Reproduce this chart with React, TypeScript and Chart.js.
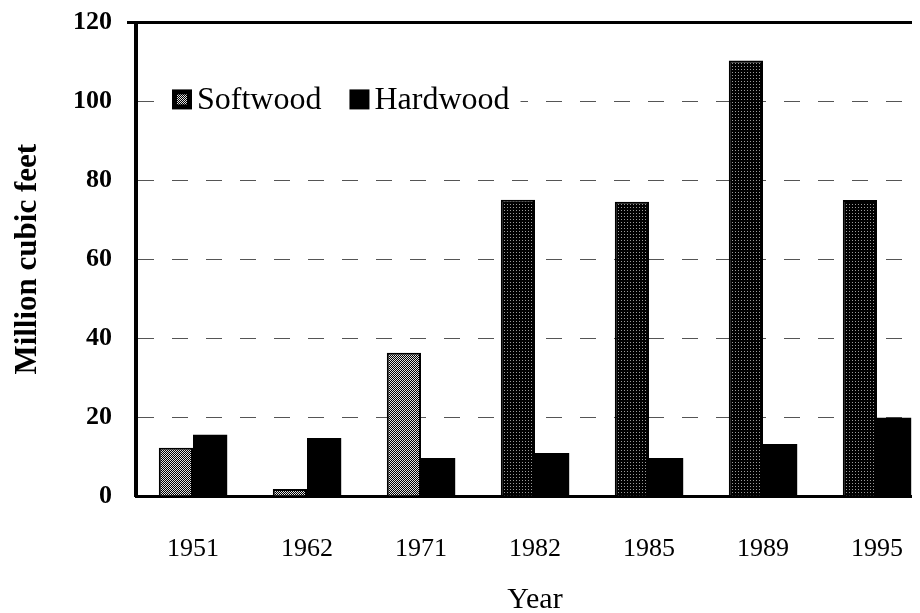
import { useEffect, useRef } from 'react';
import { Chart, registerables } from 'chart.js';

Chart.register(...registerables);

const years = ['1951', '1962', '1971', '1982', '1985', '1989', '1995'];
const softwood = [12.2, 1.8, 36.3, 75.1, 74.6, 110.4, 75.0];
const hardwood = [15.5, 14.7, 9.6, 10.9, 9.6, 13.2, 19.8];
const yMin = 0;
const yMax = 120;
const yStep = 20;

const SERIF = '"Liberation Serif", "Times New Roman", serif';
// shading kind of each softwood bar (light stipple or dark stipple)
const softShade = ['light', 'light', 'light', 'dark', 'dark', 'dark', 'dark'];

function makePattern(kind: string): CanvasPattern | string {
  const c = document.createElement('canvas');
  const n = kind === 'light' ? 2 : 3;
  c.width = n;
  c.height = n;
  const g = c.getContext('2d');
  if (!g) return kind === 'light' ? '#808080' : '#222';
  g.fillStyle = '#000';
  g.fillRect(0, 0, n, n);
  g.fillStyle = kind === 'light' ? '#e0e0e0' : '#9a9a9a';
  if (kind === 'light') {
    g.fillRect(0, 0, 1, 1);
    g.fillRect(1, 1, 1, 1);
  } else {
    g.fillRect(1, 1, 1, 1);
  }
  const p = g.createPattern(c, 'repeat');
  return p || '#444';
}

export default function App() {
  const ref = useRef<HTMLCanvasElement>(null);

  useEffect(() => {
    if (!ref.current) return;
    const patterns: Record<string, CanvasPattern | string> = {
      light: makePattern('light'),
      dark: makePattern('dark'),
    };

    // Legend drawn inside the plot area, on a single row, over a white background
    const inlineLegend = {
      id: 'inlineLegend',
      afterDraw(chart: any) {
        const ctx = chart.ctx;
        const area = chart.chartArea;
        const cy = chart.scales.y.getPixelForValue(100) - 2;
        let x = area.left + 36;
        const box = 20;
        ctx.save();
        ctx.font = `32px ${SERIF}`;
        const items = chart.data.datasets.map((d: any, i: number) => ({
          label: d.label,
          idx: i,
          w: ctx.measureText(d.label).width,
        }));
        const total = items.reduce((s: number, it: any) => s + box + 5 + it.w, 0) + 28 * (items.length - 1);
        ctx.fillStyle = '#ffffff';
        ctx.fillRect(x - 17, cy - 16, total + 28, 32);
        ctx.textBaseline = 'middle';
        ctx.textAlign = 'left';
        items.forEach((it: any) => {
          ctx.fillStyle = '#000';
          ctx.fillRect(x, cy - box / 2, box, box);
          if (it.idx === 0) {
            ctx.fillStyle = patterns.light;
            ctx.fillRect(x + 5, cy - box / 2 + 5, box - 10, box - 10);
          }
          ctx.fillStyle = '#000';
          ctx.fillText(it.label, x + box + 5, cy + 1);
          x += box + 5 + it.w + 28;
        });
        ctx.restore();
      },
    };

    const chart = new Chart(ref.current, {
      type: 'bar',
      data: {
        labels: years,
        datasets: [
          {
            label: 'Softwood',
            data: softwood,
            backgroundColor: (c: any) => (c.dataIndex === undefined ? '#555555' : patterns[softShade[c.dataIndex]]),
            borderColor: '#000000',
            borderWidth: 2,
          },
          {
            label: 'Hardwood',
            data: hardwood,
            backgroundColor: '#000000',
            borderColor: '#000000',
            borderWidth: 0,
          },
        ],
      },
      options: {
        responsive: false,
        animation: false,
        layout: { padding: { left: 0, right: 4, top: 0, bottom: 0 } },
        datasets: { bar: { categoryPercentage: 0.6, barPercentage: 1.0 } },
        plugins: {
          tooltip: { enabled: false },
          legend: { display: false },
        },
        scales: {
          x: {
            grid: { display: false },
            border: { display: true, color: '#000', width: 3 },
            ticks: { color: '#000', font: { family: SERIF, size: 26 }, padding: 30 },
            title: { display: true, text: 'Year', color: '#000', font: { family: SERIF, size: 30 }, padding: 0 },
            afterFit(s: any) {
              s.height = 122;
            },
          },
          y: {
            min: yMin,
            max: yMax,
            ticks: { stepSize: yStep, color: '#000', font: { family: SERIF, size: 26, weight: 'bold' }, padding: 15 },
            grid: {
              drawTicks: true,
              tickLength: 9,
              color: (c: any) => (c.tick && c.tick.value === yMax ? '#000' : c.tick && c.tick.value === yMin ? 'rgba(0,0,0,0)' : '#555'),
              lineWidth: (c: any) => (c.tick && c.tick.value === yMax ? 3 : 1),
              tickColor: (c: any) => (c.tick && c.tick.value === yMax ? '#000' : 'rgba(0,0,0,0)'),
              tickWidth: 3,
            },
            border: {
              display: true,
              color: '#000',
              width: 4,
              dash: (c: any) => (c.tick && c.tick.value !== yMax ? [16, 18] : []),
              dashOffset: 0,
            } as any,
            title: {
              display: true,
              text: 'Million cubic feet',
              color: '#000',
              font: { family: SERIF, size: 31, weight: 'bold' },
              padding: { top: 1, bottom: 0 },
            },
            afterFit(s: any) {
              s.width = 128;
              s.paddingTop = 14.5;
              s.paddingBottom = 0;
            },
          },
        },
      } as any,
      plugins: [inlineLegend],
    });

    return () => chart.destroy();
  }, []);

  return (
    <div style={{ width: 904, height: 605, overflow: 'hidden', background: '#fff' }}>
      <canvas ref={ref} width={930} height={610} style={{ display: 'block' }} />
    </div>
  );
}
